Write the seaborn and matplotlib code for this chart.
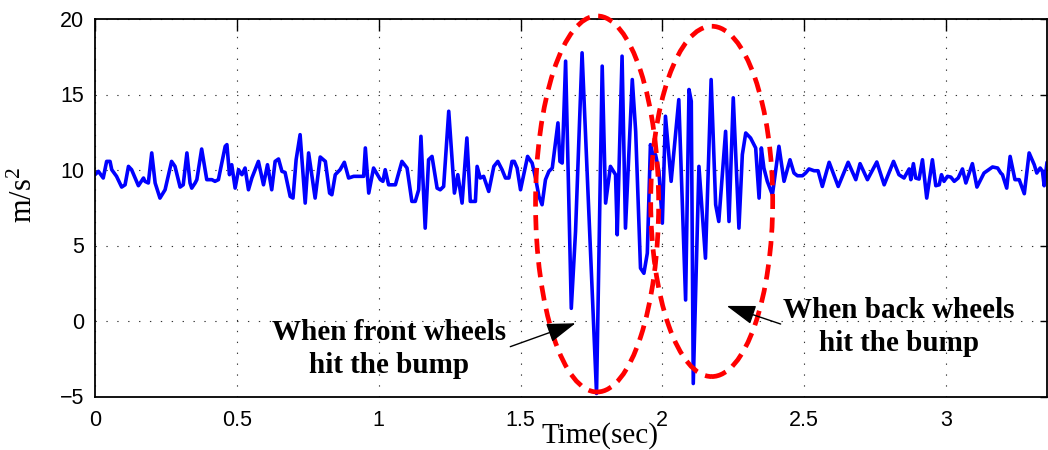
"""
Acceleration trace with the two bump hits marked.
"""

import matplotlib
matplotlib.use('Agg')

import numpy as np
import pandas as pd
import matplotlib.pyplot as plt
from matplotlib.patches import Ellipse
from matplotlib.ticker import FuncFormatter
import seaborn as sns

# Signal (time in s, acceleration in m/s^2)
time_sec = [
    0.000, 0.012, 0.029, 0.041, 0.053, 0.059, 0.076, 0.094, 0.106, 0.118,
    0.129, 0.153, 0.171, 0.176, 0.188, 0.200, 0.212, 0.229, 0.247, 0.270,
    0.282, 0.300, 0.311, 0.324, 0.335, 0.341, 0.353, 0.359, 0.376, 0.394,
    0.412, 0.423, 0.435, 0.459, 0.465, 0.474, 0.482, 0.494, 0.506, 0.518,
    0.529, 0.541, 0.553, 0.576, 0.594, 0.608, 0.623, 0.635, 0.647, 0.659,
    0.670, 0.688, 0.698, 0.709, 0.723, 0.741, 0.753, 0.776, 0.794, 0.812,
    0.827, 0.835, 0.847, 0.864, 0.879, 0.894, 0.912, 0.929, 0.947, 0.953,
    0.965, 0.982, 1.006, 1.015, 1.023, 1.035, 1.059, 1.082, 1.100, 1.117,
    1.129, 1.141, 1.149, 1.164, 1.176, 1.188, 1.206, 1.217, 1.229, 1.247,
    1.267, 1.279, 1.294, 1.311, 1.323, 1.341, 1.347, 1.358, 1.370, 1.388,
    1.406, 1.420, 1.435, 1.447, 1.459, 1.470, 1.478, 1.488, 1.500, 1.525,
    1.541, 1.553, 1.565, 1.576, 1.588, 1.600, 1.612, 1.632, 1.639, 1.647,
    1.659, 1.679, 1.694, 1.717, 1.768, 1.788, 1.800, 1.817, 1.835, 1.841,
    1.858, 1.870, 1.894, 1.906, 1.923, 1.935, 1.947, 1.958, 1.968, 1.976,
    1.988, 2.000, 2.011, 2.031, 2.058, 2.082, 2.094, 2.102, 2.109, 2.129,
    2.152, 2.172, 2.188, 2.199, 2.223, 2.235, 2.250, 2.270, 2.282, 2.294,
    2.311, 2.329, 2.341, 2.349, 2.358, 2.370, 2.388, 2.399, 2.411, 2.429,
    2.450, 2.464, 2.476, 2.494, 2.505, 2.517, 2.535, 2.549, 2.564, 2.588,
    2.620, 2.655, 2.682, 2.697, 2.723, 2.756, 2.782, 2.815, 2.834, 2.852,
    2.870, 2.876, 2.885, 2.893, 2.905, 2.917, 2.932, 2.952, 2.964, 2.976,
    2.984, 2.993, 3.005, 3.017, 3.029, 3.043, 3.058, 3.070, 3.093, 3.109,
    3.134, 3.164, 3.182, 3.193, 3.199, 3.214, 3.226, 3.243, 3.258, 3.276,
    3.293, 3.311, 3.320, 3.332, 3.340, 3.346, 3.356,
]
accel = [
    9.69, 9.91, 9.47, 10.57, 10.57, 10.02, 9.58, 8.87, 9.02, 10.24,
    10.02, 8.96, 9.47, 9.25, 9.14, 11.13, 9.14, 8.14, 8.69, 10.57,
    10.24, 8.87, 9.02, 11.13, 9.14, 8.80, 9.14, 9.36, 11.39, 9.36,
    9.36, 9.25, 9.36, 11.57, 11.68, 9.69, 10.35, 8.80, 10.02, 9.69,
    10.13, 8.69, 9.47, 10.57, 9.02, 10.35, 8.69, 10.57, 10.73, 9.91,
    9.84, 8.25, 8.14, 10.68, 12.34, 7.81, 11.13, 8.14, 10.86, 10.57,
    8.47, 8.36, 9.69, 10.02, 10.51, 9.47, 9.58, 9.58, 9.58, 11.46,
    8.47, 10.13, 9.36, 9.25, 10.02, 9.02, 9.02, 10.57, 10.13, 7.92,
    7.92, 8.69, 12.23, 6.15, 10.68, 10.90, 8.80, 8.69, 8.91, 13.89,
    8.47, 9.69, 7.81, 12.12, 7.92, 7.92, 10.24, 9.47, 9.58, 8.58,
    10.24, 10.57, 10.02, 9.47, 9.47, 10.57, 10.57, 10.13, 8.69, 10.90,
    10.46, 9.47, 8.25, 7.70, 9.36, 9.91, 10.13, 13.12, 10.57, 10.46,
    17.21, 0.84, 5.93, 17.76, -4.80, 16.88, 7.81, 10.24, 9.69, 5.71,
    17.54, 6.15, 15.99, 12.56, 3.50, 3.16, 4.49, 11.68, 10.90, 11.02,
    9.91, 6.48, 13.56, 9.25, 14.66, 1.39, 15.33, 14.55, -4.14, 10.24,
    4.16, 15.99, 7.70, 6.59, 12.56, 6.59, 14.78, 6.15, 11.02, 12.45,
    12.12, 11.46, 8.14, 11.46, 10.13, 9.25, 8.36, 9.91, 11.57, 9.25,
    10.68, 9.80, 9.62, 9.62, 9.80, 10.07, 9.95, 9.95, 8.91, 10.51,
    8.91, 10.51, 9.36, 10.42, 9.36, 10.53, 9.02, 10.57, 9.69, 9.47,
    10.07, 9.36, 10.42, 9.47, 9.40, 10.68, 8.14, 10.68, 8.96, 9.02,
    9.69, 9.25, 9.58, 9.53, 9.25, 9.47, 10.07, 9.14, 10.42, 8.87,
    9.80, 10.20, 10.13, 9.80, 9.69, 8.80, 10.90, 9.36, 9.36, 8.43,
    11.13, 10.35, 9.80, 10.13, 9.91, 8.96, 10.51,
]

x_ticks = [0, 0.5, 1, 1.5, 2, 2.5, 3]
y_ticks = [-5, 0, 5, 10, 15, 20]

# Marked regions (centre t, centre a, width, height)
front_ellipse = (1.770, 7.75, 0.434, 24.9)
back_ellipse = (2.174, 7.92, 0.430, 23.2)

front_label = "When front wheels\nhit the bump"
back_label = "When back wheels\nhit the bump"

sns.set_style("white")
plt.rcParams['font.family'] = ['Liberation Sans', 'DejaVu Sans']
plt.rcParams['text.color'] = 'black'
plt.rcParams['mathtext.fontset'] = 'custom'
plt.rcParams['mathtext.rm'] = 'Liberation Serif'
plt.rcParams['mathtext.it'] = 'Liberation Serif'
SERIF = ['Liberation Serif', 'DejaVu Serif']

df = pd.DataFrame({"t": time_sec, "a": accel})

fig = plt.figure(figsize=(10.48, 4.5), dpi=100)
ax = fig.add_axes([95 / 1048, 1 - 396.5 / 450, (1047 - 95) / 1048, (396.5 - 19) / 450])

sns.lineplot(data=df, x="t", y="a", ax=ax, color="#0000ff", linewidth=2.6,
             estimator=None, sort=False, legend=False)

ax.set_xlim(0, 3.356)
ax.set_ylim(-5, 20)
ax.set_xticks(x_ticks)
ax.set_yticks(y_ticks)
fmt = FuncFormatter(lambda v, p: f"{v:g}".replace("-", "\u2212"))
ax.xaxis.set_major_formatter(fmt)
ax.yaxis.set_major_formatter(fmt)
ax.set_xlabel("")
ax.set_ylabel("")

ax.grid(True, color="#333333", linestyle=(0, (1.2, 8.6)), linewidth=0.8)
for s in ax.spines.values():
    s.set_color("black")
    s.set_linewidth(1.3)
ax.tick_params(axis="x", direction="in", length=8.5, width=1, top=True,
               labelsize=15.5, pad=10, colors="black", labelcolor="black")
ax.tick_params(axis="y", direction="in", length=5, width=1, right=True,
               labelsize=15.5, pad=8, colors="black", labelcolor="black")

# dashed ellipses around the bump hits
for cx, cy, w, h in (front_ellipse, back_ellipse):
    ax.add_patch(Ellipse((cx, cy), w, h, fill=False, edgecolor="#ff0000",
                         linewidth=3.4, linestyle=(0, (3.2, 1.8)),
                         clip_on=False, zorder=4))

arrow_kw = dict(arrowstyle="-|>,head_length=0.9,head_width=0.3",
                color="black", lw=1.0, mutation_scale=20, shrinkA=0, shrinkB=0)
ax.annotate("", xy=(1.694, -0.15), xytext=(1.464, -1.70), arrowprops=arrow_kw, zorder=5)
ax.annotate("", xy=(2.227, 1.00), xytext=(2.417, -0.20), arrowprops=arrow_kw, zorder=5)

ax.text(1.035, -1.86, front_label, ha="center", va="center", fontsize=21,
        fontweight="bold", family=SERIF, linespacing=1.25, color="black", zorder=5)
ax.text(2.835, -0.38, back_label, ha="center", va="center", fontsize=21,
        fontweight="bold", family=SERIF, linespacing=1.3, color="black", zorder=5)

fig.text(600 / 1048, 1 - 443 / 450, "Time(sec)", ha="center", va="baseline",
         fontsize=21, family=SERIF, color="black")
fig.text(24 / 1048, 1 - 195 / 450, "m/s$^2$", ha="center", va="center",
         rotation=90, fontsize=22, family=SERIF, color="black")

fig.savefig("out.png", dpi=100)
plt.close(fig)
